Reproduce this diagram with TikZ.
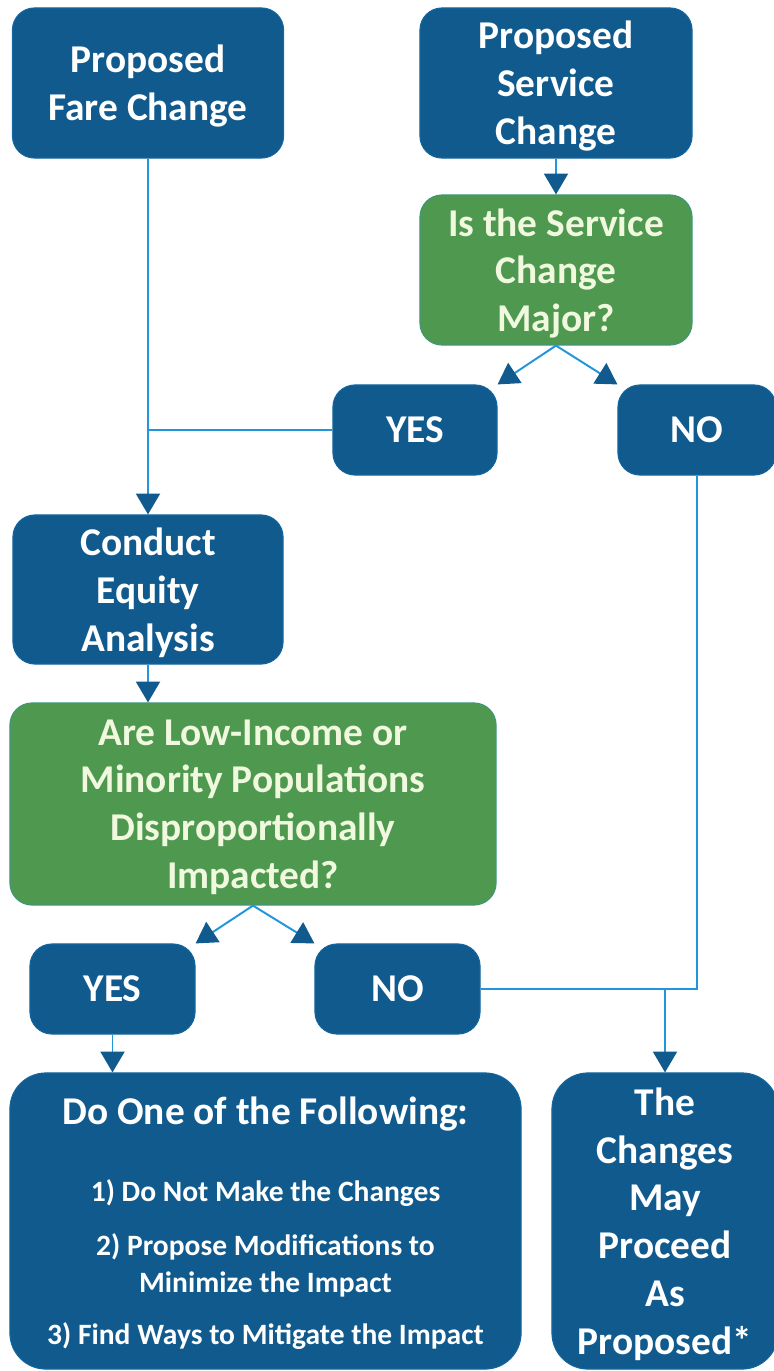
\documentclass[tikz,border=0pt]{standalone}
\usepackage{fontspec}
\setmainfont{Carlito}
\usetikzlibrary{arrows.meta}
\definecolor{boxblue}{RGB}{16,90,142}
\definecolor{boxgreen}{RGB}{78,152,80}
\definecolor{linkblue}{RGB}{34,150,221}
\definecolor{textcream}{RGB}{240,248,222}

\begin{document}
\begin{tikzpicture}[x=0.025cm, y=-0.025cm,
    bluebox/.style={fill=boxblue, draw=boxblue!80!linkblue, line width=0.8pt, rounded corners=0.55cm,
        text=white, align=center, inner sep=0pt, text depth=0pt, font=\fontsize{28}{34}\selectfont\bfseries},
    greenbox/.style={bluebox, fill=boxgreen, draw=boxgreen!70!linkblue, text=textcream},
    joinline/.style={draw=linkblue, line width=1.4pt},
    flowarrow/.style={joinline, -{Triangle[width=0.6cm, length=0.52cm, color=boxblue, fill=boxblue]}}]
    \useasboundingbox (0,0) rectangle (774,1371);

    \node[bluebox, minimum width=6.775cm, minimum height=3.75cm] (fare) at (148,83) {Proposed\\Fare Change};
    \node[bluebox, minimum width=6.8cm, minimum height=3.75cm] (service) at (556,83) {Proposed\\Service\\Change};
    \node[greenbox, minimum width=6.8cm, minimum height=3.75cm] (major) at (556,270) {Is the Service\\Change\\Major?};
    \node[bluebox, minimum width=4.1cm, minimum height=2.25cm] (yesA) at (415,430) {YES};
    \node[bluebox, minimum width=3.95cm, minimum height=2.25cm] (noA) at (697,430) {NO};
    \node[bluebox, minimum width=6.75cm, minimum height=3.725cm] (conduct) at (148,589.5) {Conduct\\Equity\\Analysis};
    \node[greenbox, minimum width=12.15cm, minimum height=5.05cm] (impact) at (253,804) {Are Low-Income or\\Minority Populations\\Disproportionally\\Impacted?};
    \node[bluebox, minimum width=4.125cm, minimum height=2.25cm] (yesB) at (112.5,989) {YES};
    \node[bluebox, minimum width=4.125cm, minimum height=2.25cm] (noB) at (397.5,989) {NO};
    \node[bluebox, rounded corners=0.9cm, minimum width=12.775cm, minimum height=7.4cm,
        font=\fontsize{21}{26}\selectfont\bfseries] (options) at (265.5,1221)
        {{\fontsize{28}{34}\selectfont Do One of the Following:}\\[1cm]
        1) Do Not Make the Changes\\[0.45cm]
        2) Propose Modifications to\\
        Minimize the Impact\\[0.4cm]
        3) Find Ways to Mitigate the Impact};
    \node[bluebox, rounded corners=0.9cm, minimum width=5.65cm, minimum height=7.4cm] (proceed) at (665,1221) {The\\Changes\\May\\Proceed\\As\\Proposed*};

    \draw[flowarrow] (fare.south) -- (fare.south |- conduct.north);
    \draw[joinline] (yesA.west) -- (yesA.west -| fare.south);
    \draw[flowarrow] (service) -- (major);
    \draw[flowarrow] (major.south) -- (yesA.north east);
    \draw[flowarrow] (major.south) -- (noA.north west);
    \draw[joinline] (noA.south) |- (noB.east);
    \draw[flowarrow] (proceed.north |- noB.east) -- (proceed.north);
    \draw[flowarrow] (conduct.south) -- (conduct.south |- impact.north);
    \draw[flowarrow] (impact.south) -- (yesB.north east);
    \draw[flowarrow] (impact.south) -- (noB.north west);
    \draw[flowarrow] (yesB.south) -- (yesB.south |- options.north);
\end{tikzpicture}
\end{document}
